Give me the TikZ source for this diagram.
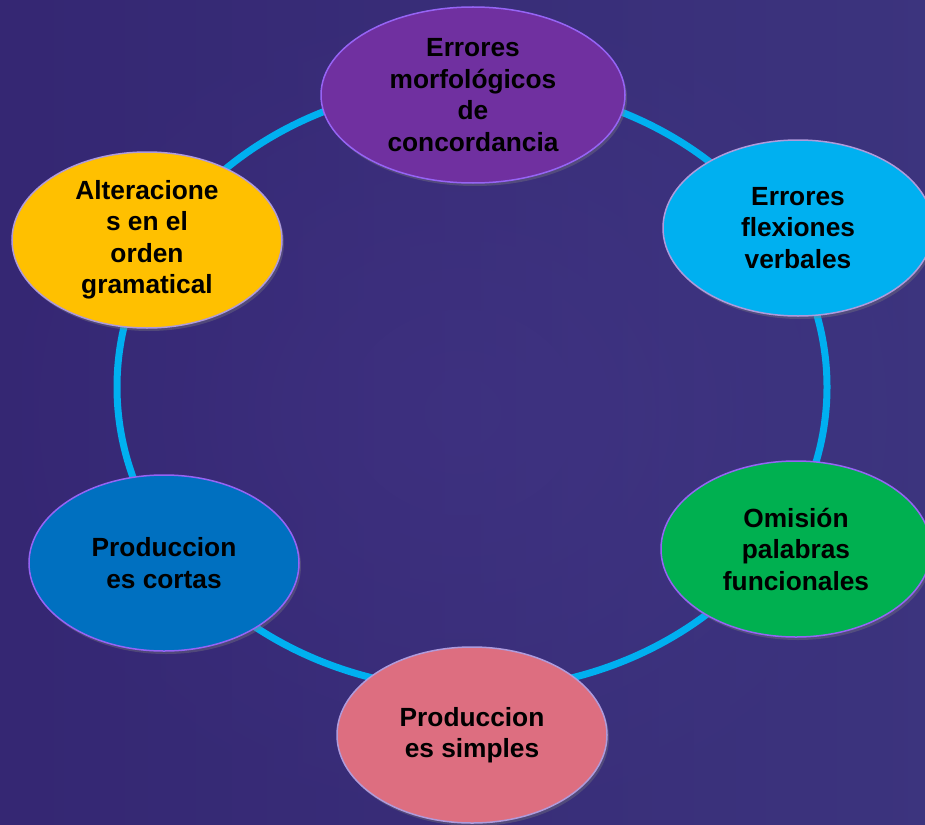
\documentclass[tikz,border=0pt]{standalone}
\usepackage{fontspec}
\setmainfont{Liberation Sans}
\usetikzlibrary{shapes.geometric,shadows}
\definecolor{bgdark}{RGB}{46,26,104}
\definecolor{bglight}{RGB}{60,52,126}
\definecolor{bgmid}{RGB}{70,58,140}
\definecolor{ringblue}{RGB}{0,176,240}
\definecolor{edgeviolet}{RGB}{150,100,245}
\definecolor{edgelilac}{RGB}{175,155,220}
\definecolor{morfcol}{RGB}{112,48,160}
\definecolor{flexcol}{RGB}{0,176,240}
\definecolor{omicol}{RGB}{0,176,80}
\definecolor{simplecol}{RGB}{221,110,128}
\definecolor{cortacol}{RGB}{0,112,192}
\definecolor{ordencol}{RGB}{255,192,0}
\tikzstyle{bubble}=[ellipse, draw=edgelilac, line width=1.5pt, inner sep=0pt,
    minimum width=270pt, minimum height=176pt,
    drop shadow={opacity=0.35, shadow xshift=2pt, shadow yshift=-3pt}]
\tikzstyle{bubbletext}=[align=center, inner sep=0pt, text=black,
    font=\fontsize{26.3}{31.5}\selectfont\bfseries]
\tikzstyle{ring}=[draw=ringblue, line width=7pt]

\begin{document}
\begin{tikzpicture}[x=1pt,y=-1pt]
    \useasboundingbox (0,0) rectangle (925,824);
    \clip (0,0) rectangle (925,824);
    \shade[left color=bgdark, right color=bglight] (0,0) rectangle (925,824);
    \shade[inner color=bgmid, outer color=bglight, opacity=0.5] (0,0) rectangle (925,824);
    \draw[ring] (472,387) ellipse [x radius=355, y radius=303];
    \node (morf) [bubble, fill=morfcol, draw=edgeviolet, minimum width=304pt] at (473,95) {};
    \node (flex) [bubble, fill=flexcol] at (798,228) {};
    \node (omi) [bubble, fill=omicol, draw=edgeviolet] at (796,549) {};
    \node (simple) [bubble, fill=simplecol] at (472,735) {};
    \node (corta) [bubble, fill=cortacol, draw=edgeviolet] at (164,563) {};
    \node (orden) [bubble, fill=ordencol] at (147,240) {};
    \node (morf-t) [bubbletext] at (morf) {Errores\\morfológicos\\de\\concordancia};
    \node (flex-t) [bubbletext] at (flex) {Errores\\flexiones\\verbales};
    \node (omi-t) [bubbletext] at (omi) {Omisión\\palabras\\funcionales};
    \node (simple-t) [bubbletext] at (simple) {Produccion\\es simples};
    \node (corta-t) [bubbletext] at (corta) {Produccion\\es cortas};
    \node (orden-t) [bubbletext] at (orden) {Alteracione\\s en el\\orden\\gramatical};
\end{tikzpicture}
\end{document}
